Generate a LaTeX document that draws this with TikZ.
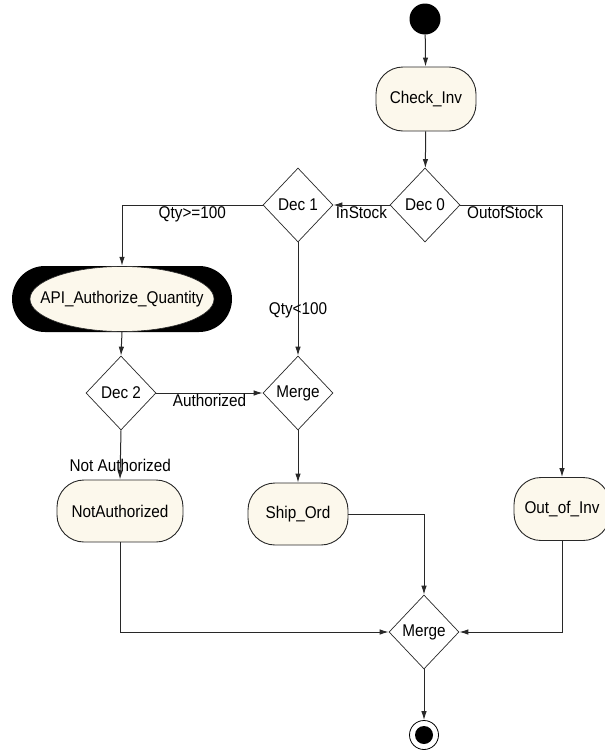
\documentclass[tikz,border=0pt]{standalone}
\usepackage{fontspec}
\setmainfont{Liberation Sans}[FakeStretch=0.9]
\usetikzlibrary{shapes.geometric,arrows.meta}
\definecolor{cream}{RGB}{252,248,236}
\definecolor{ln}{RGB}{40,40,40}
\begin{document}
\begin{tikzpicture}[x=1pt,y=-1pt,
  every node/.style={font=\fontsize{17}{19}\selectfont},
  act/.style={draw=ln,line width=0.9pt,fill=cream,rectangle,rounded corners=27pt,inner sep=0pt},
  dec/.style={draw=ln,line width=0.7pt,fill=white,diamond,inner sep=0pt,minimum width=70pt,minimum height=74pt},
  conn/.style={draw=ln,line width=1pt,-{Latex[length=9pt,width=5.5pt]}},
  lab/.style={inner sep=1pt}]
\useasboundingbox (0,0) rectangle (605,750);
% nodes
\node[circle,fill=black,minimum size=31pt,inner sep=0pt] (start) at (425,19) {};
\node[act,minimum width=100pt,minimum height=64pt] (check) at (426,99) {Check\_Inv};
\node[dec] (dec0) at (425,205) {Dec 0};
\node[dec] (dec1) at (298,205) {Dec 1};
\node[rectangle,fill=black,rounded corners=33pt,minimum width=220pt,minimum height=66pt,inner sep=0pt] (api) at (122,299) {};
\filldraw[fill=cream,draw=ln,line width=0.6pt] (api) ellipse [x radius=92pt,y radius=32.5pt];
\node (apitext) at (api) {API\_Authorize\_Quantity};
\node[dec] (dec2) at (121,393) {Dec 2};
\node[dec] (merge1) at (298,393) {Merge};
\node[act,minimum width=126pt,minimum height=62pt] (notauth) at (120,511) {NotAuthorized};
\node[act,minimum width=100pt,minimum height=62pt] (ship) at (298,514) {Ship\_Ord};
\node[act,minimum width=96pt,minimum height=63pt] (outinv) at (562,509) {Out\_of\_Inv};
\node[dec] (merge2) at (424,632) {Merge};
\node[circle,draw=black,line width=0.8pt,minimum size=29pt,inner sep=0pt] (end) at (424,735) {};
\node[circle,fill=black,minimum size=18pt,inner sep=0pt] (endin) at (end) {};
% connectors
\draw[conn] (start) -- (check);
\draw[conn] (check) -- (dec0);
\draw[conn] (dec0.west) -- node[lab,below,pos=0.5] {InStock} (dec1.east);
\draw[conn] (dec1.west) -| node[lab,below,pos=0.25] {Qty>=100} (api.north);
\draw[conn] (dec1.south) -- node[lab,pos=0.6] {Qty<100} (merge1.north);
\draw[conn] (dec0.east) -| node[lab,below,pos=0.22] {OutofStock} (outinv.north);
\draw[conn] (api.south) -- (dec2.north);
\draw[conn] (dec2.east) -- node[lab,below,pos=0.5] {Authorized} (merge1.west);
\draw[conn] (dec2.south) -- node[lab,pos=0.72] {Not Authorized} (notauth.north);
\draw[conn] (merge1.south) -- (ship.north);
\draw[conn] (ship.east) -| (merge2.north);
\draw[conn] (outinv.south) |- (merge2.east);
\draw[conn] (notauth.south) |- (merge2.west);
\draw[conn] (merge2.south) -- (end.north);
\end{tikzpicture}
\end{document}
